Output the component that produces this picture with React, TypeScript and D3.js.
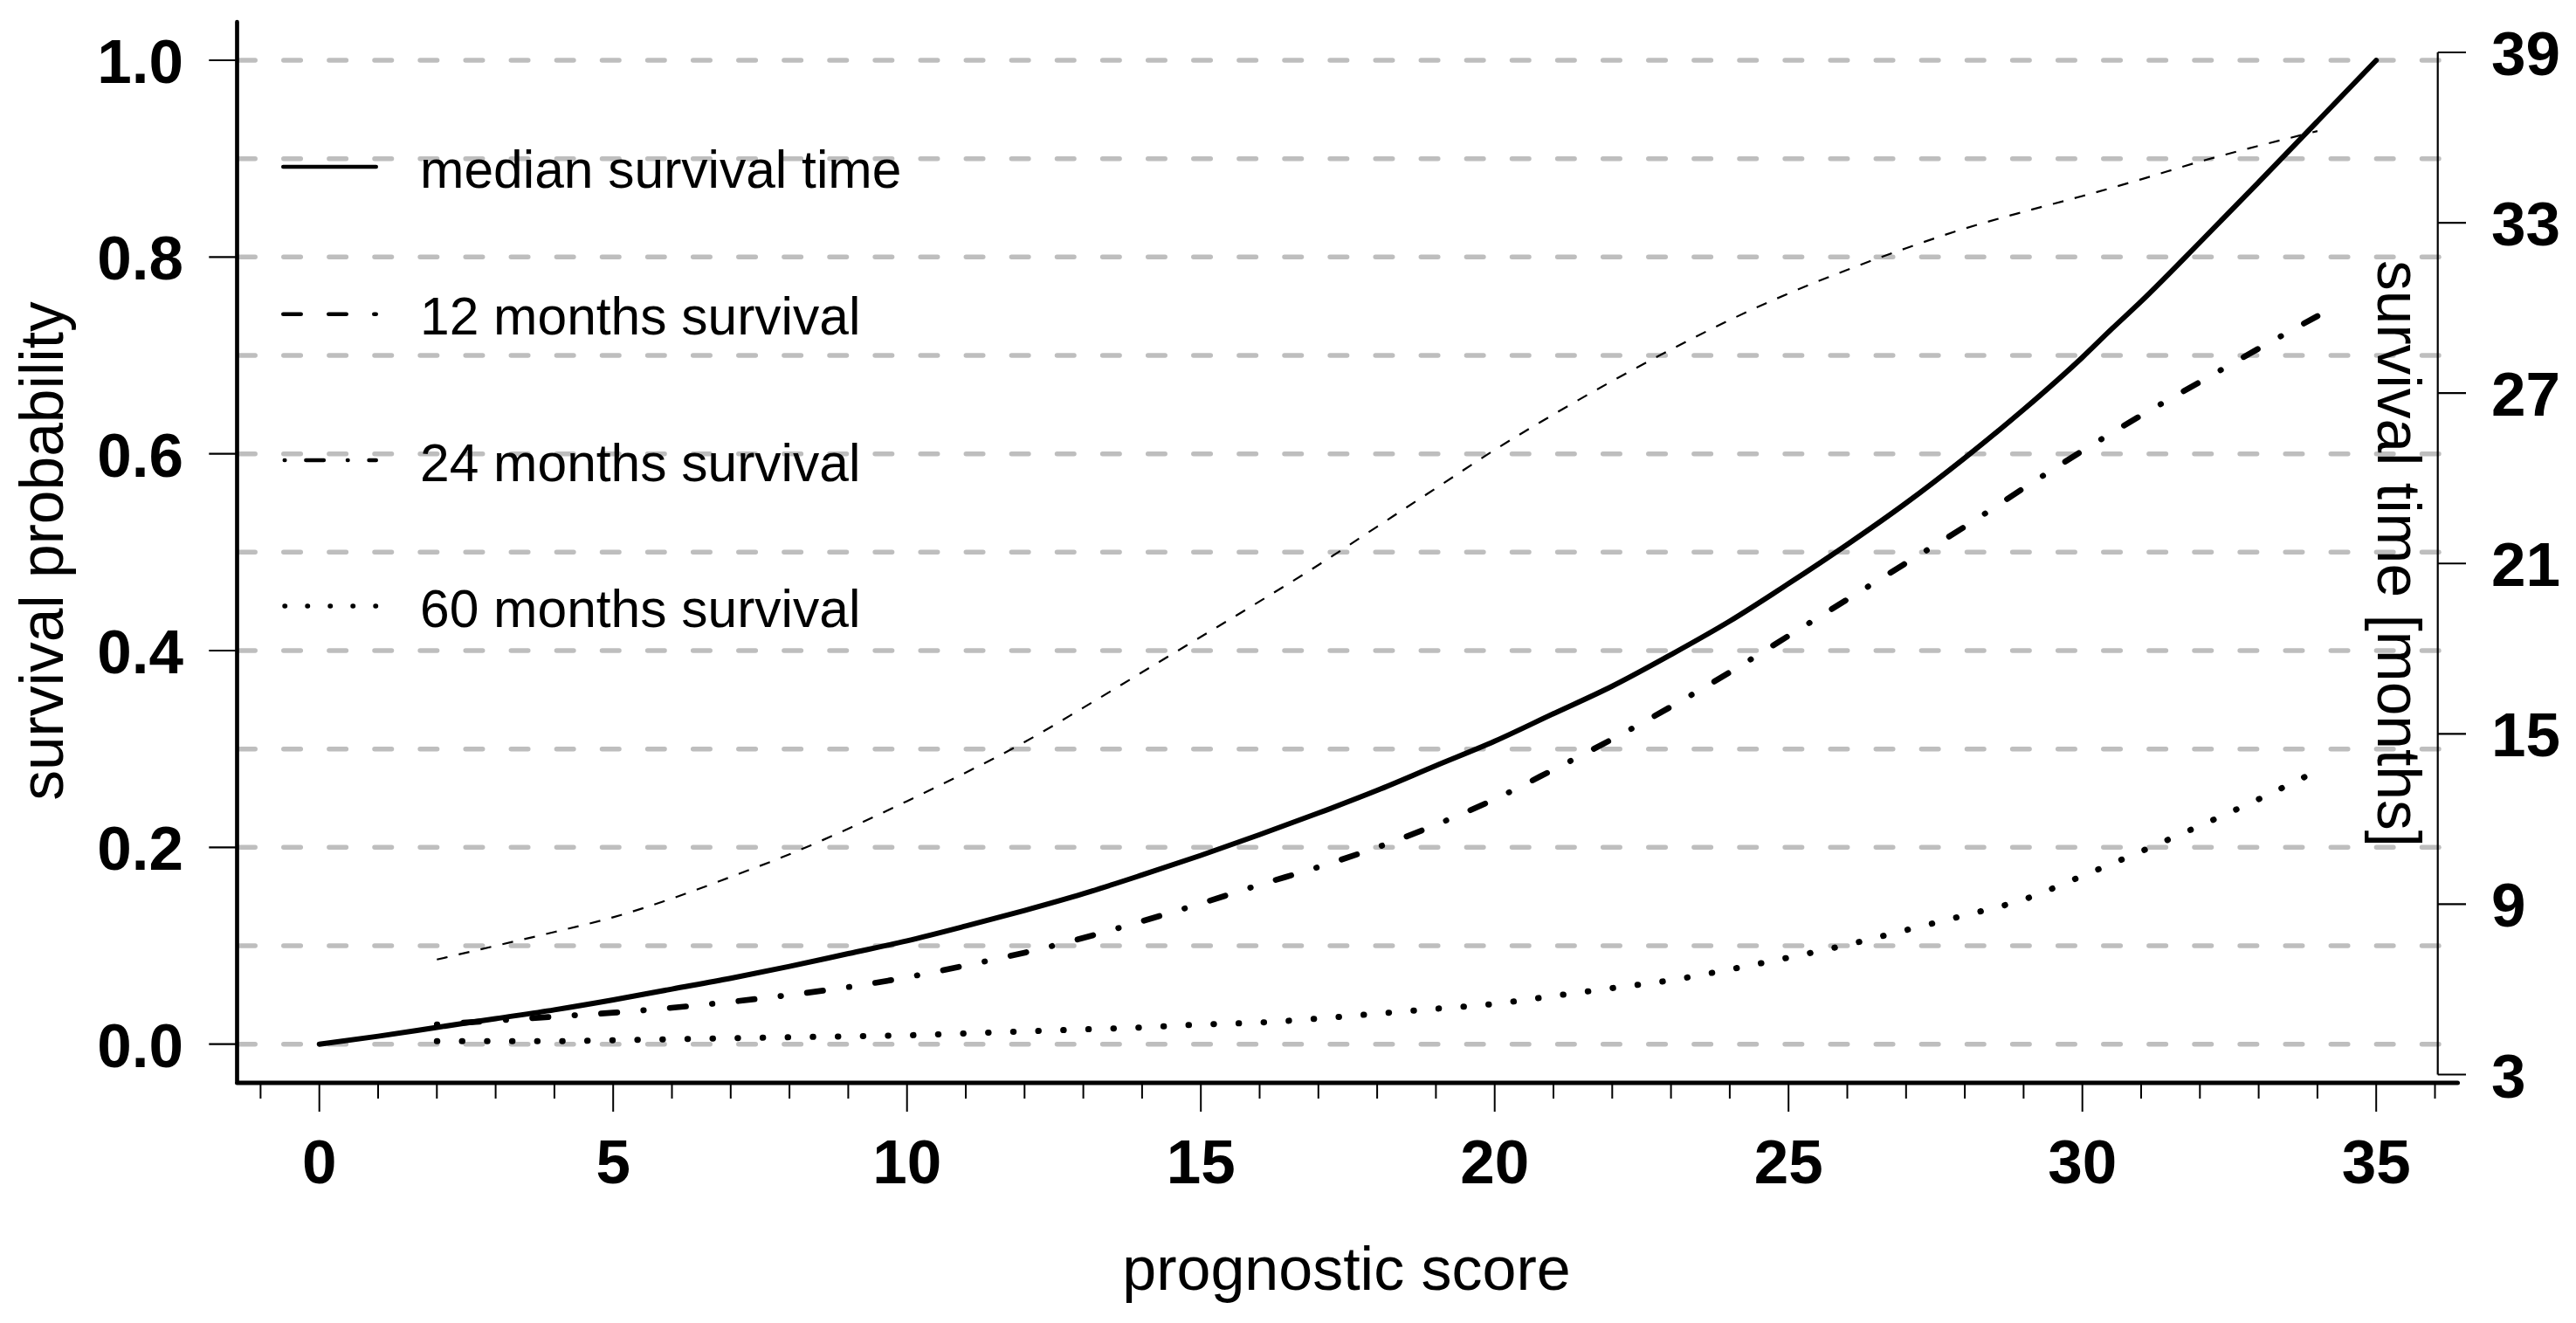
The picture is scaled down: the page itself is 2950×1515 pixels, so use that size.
import * as d3 from "d3"

// prognostic score at which the curves were read
const medianScore = [0, 1, 2, 3, 4, 5, 6, 7, 8, 9, 10, 11, 12, 13, 14, 15, 16, 17, 18, 19, 20, 21, 22, 23, 24, 25, 26, 27, 28, 29, 30, 30.5, 31, 32, 33, 34, 35]
// median survival time, months (right axis)
const medianMonths = [4.07, 4.35, 4.66, 4.97, 5.28, 5.63, 6.01, 6.39, 6.81, 7.26, 7.71, 8.23, 8.78, 9.37, 10.03, 10.72, 11.45, 12.21, 13.01, 13.88, 14.74, 15.71, 16.68, 17.79, 18.97, 20.29, 21.67, 23.13, 24.72, 26.42, 28.26, 29.26, 30.23, 32.31, 34.43, 36.57, 38.72]

const survScore = [2, 3, 4, 5, 6, 7, 8, 9, 10, 11, 12, 13, 14, 15, 16, 17, 18, 19, 20, 21, 22, 23, 24, 25, 26, 27, 28, 29, 30, 31, 32, 33, 34]
const surv12 = [0.086, 0.1, 0.114, 0.129, 0.148, 0.17, 0.193, 0.219, 0.247, 0.276, 0.307, 0.342, 0.378, 0.414, 0.45, 0.487, 0.526, 0.565, 0.604, 0.64, 0.674, 0.706, 0.736, 0.763, 0.787, 0.809, 0.829, 0.846, 0.862, 0.879, 0.897, 0.913, 0.928]
const surv24 = [0.02, 0.024, 0.028, 0.032, 0.037, 0.043, 0.05, 0.058, 0.068, 0.08, 0.093, 0.108, 0.125, 0.143, 0.162, 0.18, 0.2, 0.223, 0.249, 0.279, 0.31, 0.343, 0.378, 0.415, 0.452, 0.489, 0.526, 0.565, 0.603, 0.639, 0.673, 0.707, 0.74]
const surv60 = [0.003, 0.003, 0.003, 0.004, 0.005, 0.006, 0.007, 0.008, 0.009, 0.011, 0.013, 0.015, 0.017, 0.02, 0.022, 0.026, 0.031, 0.036, 0.041, 0.049, 0.057, 0.065, 0.076, 0.088, 0.101, 0.116, 0.131, 0.147, 0.171, 0.196, 0.222, 0.249, 0.278]

const probTicks = [0, 0.2, 0.4, 0.6, 0.8, 1.0]
const gridValues = [0, 0.1, 0.2, 0.3, 0.4, 0.5, 0.6, 0.7, 0.8, 0.9, 1.0]
const scoreTicks = [0, 5, 10, 15, 20, 25, 30, 35]
const monthTicks = [3, 9, 15, 21, 27, 33, 39]

const legendLabels = ["median survival time", "12 months survival", "24 months survival", "60 months survival"]

const W = 2950
const H = 1515
const FONT = "'Liberation Sans', Arial, Helvetica, sans-serif"

export default function App() {
  const x = d3.scaleLinear().domain([0, 35]).range([365.7, 2721.2])
  const y = d3.scaleLinear().domain([0, 1]).range([1195.7, 69])
  const yRight = d3.scaleLinear().domain([3, 39]).range([1230.5, 60])

  const medianLine = d3
    .line<number>()
    .x((_, i) => x(medianScore[i]))
    .y((d) => yRight(d))
    .curve(d3.curveMonotoneX)

  const survLine = d3
    .line<number>()
    .x((_, i) => x(survScore[i]))
    .y((d) => y(d))
    .curve(d3.curveMonotoneX)

  // minor ticks every score unit, from -1 to 36
  const minorTicks = d3.range(-1, 37).filter((d) => d % 5 !== 0)

  const axisLeftX = 271.5
  const axisBottomY = 1240
  const axisRightX = 2791.7

  // legend line styles: [dasharray, width]
  const legendStyles = [
    { dash: "none", w: 4.6 },
    { dash: "20.4 31.6", w: 4.6 },
    { dash: "0.5 24.1 20.4 27.2", w: 4.6 },
    { dash: "0.5 25.5", w: 5.4 },
  ]
  const legendY = [191, 359.7, 527, 694]
  const legendStart = [324.3, 324.3, 325.8, 326]

  return (
    <div style={{ position: "absolute", left: 0, top: 0 }}>
      <svg width={W} height={H} style={{ display: "block", background: "#fff" }}>
        <rect width={W} height={H} fill="#fff" />

        {/* grid */}
        <g>
          {gridValues.map((v) => (
            <line
              key={v}
              x1={272.7}
              x2={2796}
              y1={y(v)}
              y2={y(v)}
              stroke="#bebebe"
              strokeWidth={5.5}
              strokeDasharray="19.5 32.6"
              strokeLinecap="round"
            />
          ))}
        </g>

        {/* curves */}
        <path d={medianLine(medianMonths) || ""} fill="none" stroke="#000" strokeWidth={6} strokeLinecap="round" strokeLinejoin="round" />
        <path d={survLine(surv12) || ""} fill="none" stroke="#000" strokeWidth={2.2} strokeDasharray="12.5 13.2" />
        <path
          d={survLine(surv24) || ""}
          fill="none"
          stroke="#000"
          strokeWidth={6.7}
          strokeDasharray="0.5 30 18.5 30"
          strokeLinecap="round"
        />
        <path d={survLine(surv60) || ""} fill="none" stroke="#000" strokeWidth={7} strokeDasharray="0.5 28.2" strokeLinecap="round" />

        {/* left axis */}
        <line x1={axisLeftX} x2={axisLeftX} y1={25} y2={1238} stroke="#000" strokeWidth={4.7} strokeLinecap="round" />
        {probTicks.map((v) => (
          <g key={v}>
            <line x1={239.3} x2={axisLeftX} y1={y(v)} y2={y(v)} stroke="#000" strokeWidth={2.2} />
            <text x={210} y={y(v) + 26} textAnchor="end" fontFamily={FONT} fontWeight="bold" fontSize={71}>
              {v.toFixed(1)}
            </text>
          </g>
        ))}

        {/* bottom axis */}
        <line x1={271.5} x2={2814.5} y1={axisBottomY} y2={axisBottomY} stroke="#000" strokeWidth={5} strokeLinecap="round" />
        {minorTicks.map((s) => (
          <line key={s} x1={x(s)} x2={x(s)} y1={1242} y2={1258} stroke="#000" strokeWidth={2} />
        ))}
        {scoreTicks.map((s) => (
          <g key={s}>
            <line x1={x(s)} x2={x(s)} y1={1242} y2={1273} stroke="#000" strokeWidth={2} />
            <text x={x(s)} y={1355} textAnchor="middle" fontFamily={FONT} fontWeight="bold" fontSize={71}>
              {s}
            </text>
          </g>
        ))}

        {/* right axis */}
        <line x1={axisRightX} x2={axisRightX} y1={yRight(39)} y2={yRight(3)} stroke="#000" strokeWidth={2.2} />
        {monthTicks.map((m) => (
          <g key={m}>
            <line x1={axisRightX} x2={2824} y1={yRight(m)} y2={yRight(m)} stroke="#000" strokeWidth={2.2} />
            <text x={2853} y={yRight(m) + 26} textAnchor="start" fontFamily={FONT} fontWeight="bold" fontSize={71}>
              {m}
            </text>
          </g>
        ))}

        {/* axis titles */}
        <text x={1542} y={1477} textAnchor="middle" fontFamily={FONT} fontSize={70}>
          prognostic score
        </text>
        <text transform="translate(71.7,631) rotate(-90)" textAnchor="middle" fontFamily={FONT} fontSize={69.5}>
          survival probability
        </text>
        <text transform="translate(2723,634) rotate(90)" textAnchor="middle" fontFamily={FONT} fontSize={69.5}>
          survival time [months]
        </text>

        {/* legend */}
        {legendLabels.map((label, i) => (
          <g key={label}>
            <line
              x1={legendStart[i]}
              x2={430.7}
              y1={legendY[i]}
              y2={legendY[i]}
              stroke="#000"
              strokeWidth={legendStyles[i].w}
              strokeDasharray={legendStyles[i].dash}
              strokeLinecap="round"
            />
            <text x={481} y={legendY[i] + 23.7} fontFamily={FONT} fontSize={60.5}>
              {label}
            </text>
          </g>
        ))}
      </svg>
    </div>
  )
}
